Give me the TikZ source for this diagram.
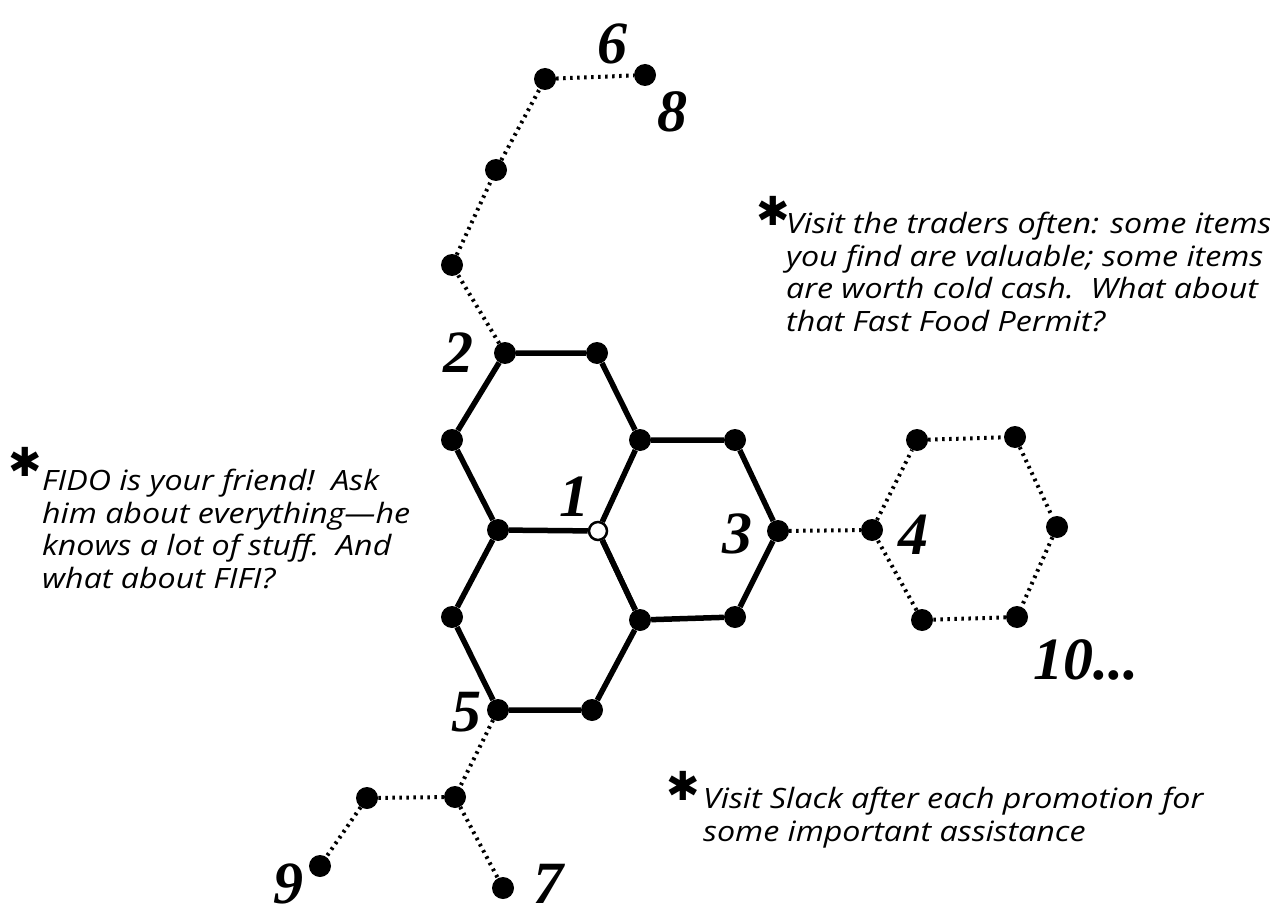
\documentclass[tikz,border=0pt]{standalone}
\usepackage{fontspec}
\setmainfont[FakeStretch=1.15]{Open Sans}
\newfontfamily\numfont{Liberation Serif}
\newfontfamily\astfont{DejaVu Sans}
\begin{document}
\begin{tikzpicture}[x=1pt,y=-1pt,
  dot/.style={circle,fill=black,inner sep=0pt,minimum size=22pt},
  hole/.style={circle,fill=white,draw=black,line width=2.5pt,inner sep=0pt,minimum size=18pt},
  solidedge/.style={line width=5.5pt},
  dotedge/.style={line width=4pt,dash pattern=on 2.5pt off 4.5pt},
  num/.style={font=\numfont\bfseries\itshape\fontsize{60}{60}\selectfont,inner sep=0pt},
  note/.style={font=\itshape\fontsize{28}{32.5}\selectfont,align=left,anchor=base west,inner sep=0pt},
  ast/.style={font=\astfont\bfseries\fontsize{40}{40}\selectfont,inner sep=0pt}
]
\useasboundingbox (0,0) rectangle (1270,915);
% hex grid nodes
\node[dot] (a) at (505,353) {};
\node[dot] (b) at (597,353) {};
\node[dot] (c) at (452,440) {};
\node[dot] (d) at (640,440) {};
\node[dot] (e) at (498,530) {};
\node[hole] (o) at (598,531) {};
\node[dot] (f) at (735,440) {};
\node[dot] (g) at (778,531) {};
\node[dot] (h) at (452,617) {};
\node[dot] (i) at (640,620) {};
\node[dot] (j) at (735,617) {};
\node[dot] (k) at (498,710) {};
\node[dot] (l) at (592,710) {};
% upper chain
\node[dot] (u1) at (452,265) {};
\node[dot] (u2) at (496,170) {};
\node[dot] (u3) at (545,79) {};
\node[dot] (u4) at (645,75) {};
% right dotted hex
\node[dot] (r0) at (872,530) {};
\node[dot] (r1) at (917,440) {};
\node[dot] (r2) at (1015,437) {};
\node[dot] (r3) at (1057,527) {};
\node[dot] (r4) at (1017,617) {};
\node[dot] (r5) at (922,620) {};
% lower chain
\node[dot] (m1) at (455,797) {};
\node[dot] (m2) at (367,798) {};
\node[dot] (m3) at (320,866) {};
\node[dot] (m4) at (503,888) {};
% solid edges
\draw[solidedge] (a) -- (b) -- (d) -- (o) -- (e) -- (c) -- (a);
\draw[solidedge] (d) -- (f) -- (g) -- (j) -- (i) -- (o);
\draw[solidedge] (o) -- (i) -- (l) -- (k) -- (h) -- (e);
% dotted edges
\draw[dotedge] (a) -- (u1);
\draw[dotedge] (u1) -- (u2);
\draw[dotedge] (u2) -- (u3);
\draw[dotedge] (u3) -- (u4);
\draw[dotedge] (g) -- (r0);
\draw[dotedge] (r0) -- (r1);
\draw[dotedge] (r1) -- (r2);
\draw[dotedge] (r2) -- (r3);
\draw[dotedge] (r3) -- (r4);
\draw[dotedge] (r4) -- (r5);
\draw[dotedge] (r5) -- (r0);
\draw[dotedge] (k) -- (m1);
\draw[dotedge] (m1) -- (m2);
\draw[dotedge] (m2) -- (m3);
\draw[dotedge] (m1) -- (m4);
% number labels
\node[num] (n1) at (574,497) {1};
\node[num] (n2) at (458,353) {2};
\node[num] (n3) at (737,534) {3};
\node[num] (n4) at (913,535) {4};
\node[num] (n5) at (466,712) {5};
\node[num] (n6) at (612,44) {6};
\node[num] (n7) at (548,884) {7};
\node[num] (n8) at (672,112) {8};
\node[num] (n9) at (288,884) {9};
\node[num] (n10) at (1086,660) {10...};
% notes
\node[ast] (s1) at (773,211) {✱};
\node[note] (t1) at (786,331) {Visit the traders often: some items\\you find are valuable; some items\\are worth cold cash.\ \ What about\\that Fast Food Permit?};
\node[ast] (s2) at (25,462) {✱};
\node[note] (t2) at (42,588) {FIDO is your friend!\ \ Ask\\him about everything---he\\knows a lot of stuff.\ \ And\\what about FIFI?};
\node[ast] (s3) at (683,786) {✱};
\node[note] (t3) at (703,841) {Visit Slack after each promotion for\\some important assistance};
\end{tikzpicture}
\end{document}
